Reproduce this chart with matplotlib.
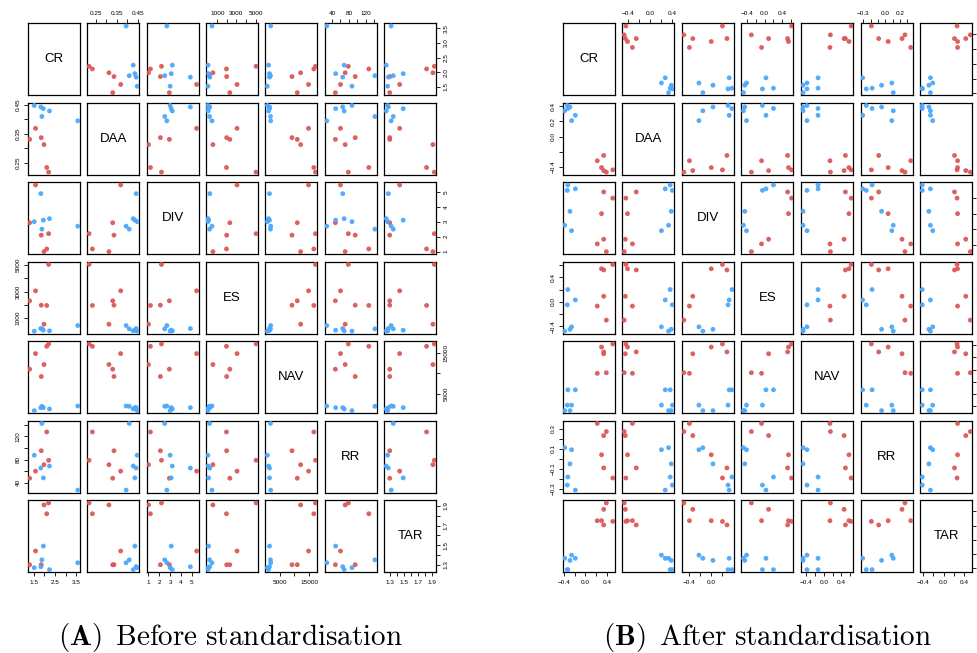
import numpy as np
import matplotlib
matplotlib.use("Agg")
import matplotlib.pyplot as plt

matplotlib.rcParams.update({'font.family': 'Liberation Sans', 'mathtext.fontset': 'cm'})

VARS = ["CR", "DAA", "DIV", "ES", "NAV", "RR", "TAR"]
# first six rows belong to the red group, last six to the blue group
GROUP = np.array([0] * 6 + [1] * 6)
COLORS = ['#dc5858', '#4ba8fa']

# raw indicators
cr_raw = [1.30, 1.58, 1.85, 1.98, 2.11, 2.20, 1.52, 1.83, 1.88, 1.95, 2.24, 3.58]
daa_raw = [0.330, 0.368, 0.336, 0.312, 0.233, 0.217, 0.447, 0.442, 0.409, 0.436, 0.428, 0.394]
div_raw = [2.93, 5.45, 2.10, 1.00, 1.18, 2.20, 3.00, 4.87, 2.50, 3.10, 3.20, 2.70]
es_raw = [2310, 3060, 1980, 550, 1960, 5040, 30, 225, 200, 100, 50, 450]
nav_raw = [10970, 14760, 9190, 12100, 16530, 17100, 890, 1620, 1940, 1620, 1290, 2020]
rr_raw = [47.9, 60.1, 95.2, 71.2, 127.6, 78.8, 87.5, 65.4, 142.2, 48.5, 68.9, 27.4]
tar_raw = [1.30, 1.44, 1.30, 1.91, 1.82, 1.93, 1.27, 1.28, 1.35, 1.49, 1.25, 1.32]

# standardised indicators
cr_std = [0.39, 0.34, 0.22, 0.30, 0.34, 0.51, -0.26, -0.39, -0.29, -0.19, -0.34, -0.33]
daa_std = [-0.47, -0.45, -0.32, -0.41, -0.25, -0.44, 0.21, 0.34, 0.39, 0.28, 0.41, 0.37]
div_std = [-0.49, -0.33, -0.39, 0.00, 0.28, 0.20, -0.22, -0.15, 0.03, 0.32, 0.30, 0.37]
es_std = [-0.30, 0.09, -0.07, 0.54, 0.52, 0.61, -0.41, -0.48, -0.45, 0.03, -0.05, 0.20]
nav_std = [0.15, 0.46, 0.14, 0.57, 0.49, 0.62, -0.38, -0.47, -0.47, -0.13, -0.38, -0.13]
rr_std = [0.27, 0.23, 0.35, 0.04, -0.09, -0.19, 0.09, 0.11, -0.05, -0.31, -0.26, -0.18]
tar_std = [0.52, 0.43, 0.27, 0.27, 0.21, 0.26, -0.215, -0.26, -0.29, -0.26, -0.42, -0.42]

# axis ticks: (tick values, labels on bottom/top, labels on left/right)
TICKS_RAW = [
    ([1.5, 2.0, 2.5, 3.0, 3.5], ["1.5", "", "2.5", "", "3.5"], ["1.5", "2.0", "2.5", "3.0", "3.5"]),
    ([0.25, 0.30, 0.35, 0.40, 0.45], ["0.25", "", "0.35", "", "0.45"], ["0.25", "", "0.35", "", "0.45"]),
    ([1, 2, 3, 4, 5], ["1", "2", "3", "4", "5"], ["1", "2", "3", "4", "5"]),
    ([1000, 2000, 3000, 4000, 5000], ["1000", "", "3000", "", "5000"], ["1000", "", "3000", "", "5000"]),
    ([5000, 10000, 15000], ["5000", "", "15000"], ["5000", "", "15000"]),
    ([40, 60, 80, 100, 120, 140], ["40", "", "80", "", "120", ""], ["40", "", "80", "", "120", ""]),
    ([1.3, 1.4, 1.5, 1.6, 1.7, 1.8, 1.9], ["1.3", "", "1.5", "", "1.7", "", "1.9"],
     ["1.3", "", "1.5", "", "1.7", "", "1.9"]),
]
M = "\u2212"
TICKS_STD = [
    ([-0.4, -0.2, 0.0, 0.2, 0.4], [M + "0.4", "", "0.0", "", "0.4"], None),
    ([-0.4, -0.2, 0.0, 0.2, 0.4], [M + "0.4", "", "0.0", "", "0.4"], [M + "0.4", "", "0.0", "0.2", "0.4"]),
    ([-0.4, -0.2, 0.0, 0.2], [M + "0.4", "", "0.0", ""], None),
    ([-0.4, -0.2, 0.0, 0.2, 0.4, 0.6], [M + "0.4", "", "0.0", "", "0.4", ""], [M + "0.4", "", "0.0", "", "0.4", ""]),
    ([-0.4, -0.2, 0.0, 0.2, 0.4, 0.6], [M + "0.4", "", "0.0", "", "0.4", ""], None),
    ([-0.3, -0.2, -0.1, 0.0, 0.1, 0.2, 0.3], [M + "0.3", "", "", "0.0", "", "0.2", ""],
     [M + "0.3", "", M + "0.1", "", "0.1", "", "0.3"]),
    ([-0.4, -0.2, 0.0, 0.2, 0.4], [M + "0.4", "", "0.0", "", "0.4"], None),
]

W, H = 978, 653
PANEL_W, PANEL_H = 52, 72
ROW_TOP, ROW_STEP = 23.3, 79.5


def data_limits(values):
    lo, hi = min(values), max(values)
    pad = 0.04 * (hi - lo)
    return lo - pad, hi + pad


def draw_pairs(fig, columns, ticks, left, col_step):
    """Scatter-plot matrix of the seven indicators, R pairs() style."""
    n = len(columns)
    limits = [data_limits(c) for c in columns]
    colors = [COLORS[g] for g in GROUP]
    for i in range(n):
        for j in range(n):
            x0 = left + j * col_step
            y0 = ROW_TOP + i * ROW_STEP
            ax = fig.add_axes([x0 / W, 1 - (y0 + PANEL_H) / H, PANEL_W / W, PANEL_H / H])
            ax.set_xlim(limits[j])
            ax.set_ylim(limits[i])
            for s in ax.spines.values():
                s.set_linewidth(0.9)
            if i == j:
                ax.text(0.5, 0.5, VARS[i], transform=ax.transAxes, ha='center', va='center', fontsize=9.5)
            else:
                ax.scatter(columns[j], columns[i], s=12, c=colors, linewidths=0, alpha=0.95, zorder=3)
            ax.set_xticks([])
            ax.set_yticks([])
            ax.tick_params(length=3.2, width=0.6, pad=2.0, labelsize=4.6, direction='out')
            # outer axes alternate between the two sides
            if i == n - 1 and j % 2 == 0:
                t, lab, _ = ticks[j]
                ax.set_xticks(t)
                ax.set_xticklabels(lab)
            if i == 0 and j % 2 == 1:
                t, lab, _ = ticks[j]
                ax.set_xticks(t)
                ax.set_xticklabels(lab)
                ax.xaxis.tick_top()
            if j == 0 and i % 2 == 1:
                t, _, lab = ticks[i]
                ax.set_yticks(t)
                ax.set_yticklabels(lab, rotation=90, va='center')
            if j == n - 1 and i % 2 == 0:
                t, _, lab = ticks[i]
                ax.set_yticks(t)
                if lab is None:
                    ax.set_yticklabels([])
                else:
                    ax.set_yticklabels(lab, rotation=90, va='center')
                ax.yaxis.tick_right()


fig = plt.figure(figsize=(W / 100, H / 100), dpi=100)

before = [cr_raw, daa_raw, div_raw, es_raw, nav_raw, rr_raw, tar_raw]
after = [cr_std, daa_std, div_std, es_std, nav_std, rr_std, tar_std]
draw_pairs(fig, before, TICKS_RAW, 27.7, 59.43)
draw_pairs(fig, after, TICKS_STD, 562.7, 59.6)

fig.text(231 / W, 1 - 638 / H, r"$\mathbf{(A)}\ \,\mathrm{Before\ standardisation}$",
         ha='center', va='center', fontsize=21)
fig.text(767 / W, 1 - 638 / H, r"$\mathbf{(B)}\ \,\mathrm{After\ standardisation}$",
         ha='center', va='center', fontsize=21)

fig.savefig("out.png", dpi=100)
